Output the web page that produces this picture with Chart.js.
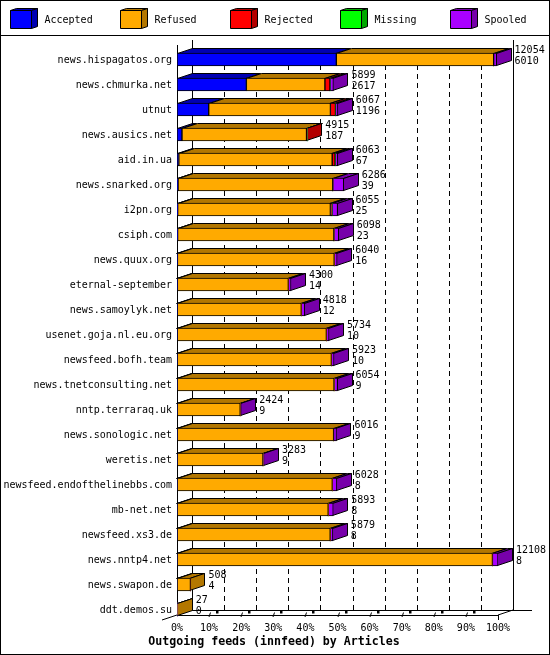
<!DOCTYPE html>
<html>
<head>
<meta charset="utf-8">
<title>Outgoing feeds (innfeed) by Articles</title>
<script src="https://cdn.jsdelivr.net/npm/chart.js@4/dist/chart.umd.min.js"></script>
<style>
  html, body { margin: 0; padding: 0; background: #fff; }
  canvas { display: block; }
</style>
</head>
<body>
<canvas id="feedsChart" width="550" height="655"></canvas>
<script>
// Chart data, in articles
const HOSTS = [
  "news.hispagatos.org", "news.chmurka.net", "utnut", "news.ausics.net", "aid.in.ua",
  "news.snarked.org", "i2pn.org", "csiph.com", "news.quux.org", "eternal-september",
  "news.samoylyk.net", "usenet.goja.nl.eu.org", "newsfeed.bofh.team", "news.tnetconsulting.net",
  "nntp.terraraq.uk", "news.sonologic.net", "weretis.net", "newsfeed.endofthelinebbs.com",
  "mb-net.net", "newsfeed.xs3.de", "news.nntp4.net", "news.swapon.de", "ddt.demos.su",
];
const TOTALS = [12054, 5899, 6067, 4915, 6063, 6286, 6055, 6098, 6040, 4300, 4818, 5734, 5923, 6054, 2424, 6016, 3283, 6028, 5893, 5879, 12108, 508, 27];
const ACCEPTED = [6010, 2617, 1196, 187, 67, 39, 25, 23, 16, 14, 12, 10, 10, 9, 9, 9, 9, 8, 8, 8, 8, 4, 0];
const REFUSED = [5934, 2962, 4591, 4698, 5786, 5837, 5760, 5895, 5914, 4186, 4676, 5624, 5813, 5915, 2375, 5897, 3234, 5850, 5695, 5771, 11890, 504, 27];
const REJECTED = [0, 190, 190, 30, 110, 0, 60, 0, 0, 0, 0, 0, 0, 0, 0, 0, 0, 0, 0, 0, 0, 0, 0];
const MISSING = [0, 0, 0, 0, 0, 0, 0, 0, 0, 0, 0, 0, 0, 0, 0, 0, 0, 0, 0, 0, 0, 0, 0];
const SPOOLED = [110, 130, 90, 0, 100, 410, 210, 180, 110, 100, 130, 100, 100, 130, 40, 110, 40, 170, 190, 100, 210, 0, 0];
const TICK_LABELS = ["0%", "10%", "20%", "30%", "40%", "50%", "60%", "70%", "80%", "90%", "100%"];
const CHART_TITLE = "Outgoing feeds (innfeed) by Articles";
const AXIS_MAX = 12108;

// Drawing constants
const FONT = '"DejaVu Sans Mono", monospace';
const DEPTH_X = 15;
const DEPTH_Y = 5;
const FLOOR_BACK_Y = 610;
const FLOOR_FRONT_Y = 615;
const WALL_TOP_Y = 40;

const SERIES = [
  { label: "Accepted", data: ACCEPTED, color: "#0000ff", dark: "#0000b3" },
  { label: "Refused", data: REFUSED, color: "#ffaa00", dark: "#b37700" },
  { label: "Rejected", data: REJECTED, color: "#ff0000", dark: "#b30000" },
  { label: "Missing", data: MISSING, color: "#00ff00", dark: "#00a800" },
  { label: "Spooled", data: SPOOLED, color: "#aa00ff", dark: "#7700aa" },
];

// Fill and outline a closed shape
const drawFace = (ctx, points, fill) => {
  ctx.beginPath();
  points.forEach(([x, y], i) => (i ? ctx.lineTo(x, y) : ctx.moveTo(x, y)));
  ctx.closePath();
  ctx.fillStyle = fill;
  ctx.fill();
  ctx.strokeStyle = "#000";
  ctx.lineWidth = 1;
  ctx.stroke();
};

const drawLine = (ctx, x0, y0, x1, y1, dash = []) => {
  ctx.beginPath();
  ctx.setLineDash(dash);
  ctx.moveTo(x0, y0);
  ctx.lineTo(x1, y1);
  ctx.strokeStyle = "#000";
  ctx.lineWidth = 1;
  ctx.stroke();
  ctx.setLineDash([]);
};

// Walls, dashed grid and floor behind the bars
const drawBackdrop = (chart) => {
  const { ctx, scales } = chart;
  const left = Math.round(scales.x.getPixelForValue(0));
  const right = Math.round(scales.x.getPixelForValue(AXIS_MAX));

  drawLine(ctx, left + 0.5, WALL_TOP_Y + DEPTH_Y, left + 0.5, FLOOR_FRONT_Y);
  drawLine(ctx, left + DEPTH_X + 0.5, WALL_TOP_Y, left + DEPTH_X + 0.5, FLOOR_BACK_Y);
  drawLine(ctx, right + DEPTH_X + 0.5, WALL_TOP_Y, right + DEPTH_X + 0.5, FLOOR_BACK_Y);

  drawLine(ctx, left + DEPTH_X, FLOOR_BACK_Y + 0.5, 532, FLOOR_BACK_Y + 0.5);
  drawLine(ctx, left, FLOOR_FRONT_Y + 0.5, right, FLOOR_FRONT_Y + 0.5);
  drawLine(ctx, left - DEPTH_X, FLOOR_FRONT_Y + DEPTH_Y, left + DEPTH_X, FLOOR_BACK_Y);
  drawLine(ctx, right, FLOOR_FRONT_Y, right + DEPTH_X, FLOOR_BACK_Y);
  drawLine(ctx, right + 0.5, FLOOR_FRONT_Y, right + 0.5, FLOOR_FRONT_Y + DEPTH_Y);

  scales.x.ticks.forEach((tick, i) => {
    if (i === 0 || i === TICK_LABELS.length - 1) return;
    const x = Math.round(scales.x.getPixelForValue(tick.value));
    // Dashed grid goes upward from the floor
    drawLine(ctx, x + DEPTH_X + 0.5, FLOOR_BACK_Y, x + DEPTH_X + 0.5, 48, [5, 4]);
    // Only stubs of the floor lines are visible
    drawLine(ctx, x, FLOOR_FRONT_Y + 2, x + 1.5, FLOOR_FRONT_Y - 2.5);
    ctx.fillStyle = "#000";
    ctx.fillRect(x + 7, FLOOR_BACK_Y + 1, 2.5, 2.5);
  });
};

// Top and side faces; the front faces are the chart's own bars
const drawBarFaces = (chart) => {
  const { ctx } = chart;
  HOSTS.forEach((host, row) => {
    let last = null;
    SERIES.forEach((series, s) => {
      if (series.data[row] <= 0) return;
      const bar = chart.getDatasetMeta(s).data[row];
      const x0 = Math.round(bar.base) + 0.5;
      const x1 = Math.round(bar.x) - 0.5;
      const top = bar.y - bar.height / 2 + 0.5;
      drawFace(ctx, [[x0, top], [x0 + DEPTH_X, top - DEPTH_Y], [x1 + DEPTH_X, top - DEPTH_Y], [x1, top]], series.dark);
      last = { x1, top, bottom: top + bar.height - 1, dark: series.dark };
    });
    if (last) {
      const { x1, top, bottom, dark } = last;
      drawFace(ctx, [[x1, top], [x1 + DEPTH_X, top - DEPTH_Y], [x1 + DEPTH_X, bottom - DEPTH_Y], [x1, bottom]], dark);
    }
  });
};

// Article counts beside each bar
const drawValueLabels = (chart) => {
  const { ctx, scales } = chart;
  ctx.font = `10px ${FONT}`;
  ctx.fillStyle = "#000";
  ctx.textAlign = "left";
  ctx.textBaseline = "middle";
  HOSTS.forEach((host, row) => {
    const x = scales.x.getPixelForValue(TOTALS[row]) + DEPTH_X + 3;
    const y = scales.y.getPixelForValue(row);
    ctx.fillText(String(TOTALS[row]), x, y - 9.5);
    ctx.fillText(String(ACCEPTED[row]), x, y + 1.5);
  });
};

// Legend strip with one small cube per series
const drawLegendStrip = (chart) => {
  const { ctx } = chart;
  ctx.font = `10px ${FONT}`;
  ctx.textAlign = "left";
  ctx.textBaseline = "middle";
  SERIES.forEach((series, i) => {
    const x = 10.5 + i * 110;
    drawFace(ctx, [[x, 10.5], [x + 6, 8.5], [x + 27, 8.5], [x + 21, 10.5]], series.dark);
    drawFace(ctx, [[x + 21, 10.5], [x + 27, 8.5], [x + 27, 26.5], [x + 21, 28.5]], series.dark);
    drawFace(ctx, [[x, 10.5], [x + 21, 10.5], [x + 21, 28.5], [x, 28.5]], series.color);
    ctx.fillStyle = "#000";
    ctx.fillText(series.label, x + 34, 20);
  });
};

const innfeedPlugin = {
  id: "innfeed",
  beforeDraw(chart) {
    const { ctx, width, height } = chart;
    ctx.save();
    ctx.fillStyle = "#fff";
    ctx.fillRect(0, 0, width, height);
    ctx.restore();
  },
  beforeDatasetsDraw(chart) {
    const { ctx } = chart;
    ctx.save();
    drawBackdrop(chart);
    drawBarFaces(chart);
    ctx.restore();
  },
  afterDraw(chart) {
    const { ctx, width, height } = chart;
    ctx.save();
    drawValueLabels(chart);
    drawLegendStrip(chart);
    // Title is centred on the whole image, not on the plot
    ctx.font = `bold 11.6px ${FONT}`;
    ctx.textAlign = "center";
    ctx.fillText(CHART_TITLE, width / 2 - 1, 642);
    ctx.strokeStyle = "#000";
    ctx.lineWidth = 1;
    ctx.strokeRect(0.5, 0.5, width - 1, height - 1);
    drawLine(ctx, 0, 35.5, width, 35.5);
    ctx.restore();
  },
};

new Chart(document.getElementById("feedsChart"), {
  type: "bar",
  data: {
    labels: HOSTS,
    datasets: SERIES.map(({ label, data, color }) => ({
      label,
      data,
      backgroundColor: color,
      borderColor: "#000",
      borderWidth: (c) => (c.raw > 0 ? 1 : 0),
      borderSkipped: false,
      barThickness: 13,
    })),
  },
  options: {
    indexAxis: "y",
    responsive: false,
    animation: false,
    devicePixelRatio: 1,
    layout: { padding: { top: 47, right: 52, bottom: 0, left: 0 } },
    scales: {
      x: {
        stacked: true,
        min: 0,
        max: AXIS_MAX,
        afterFit: (scale) => { scale.height = 33; },
        grid: { display: false, drawTicks: false },
        border: { display: false },
        ticks: {
          stepSize: AXIS_MAX / 10,
          autoSkip: false,
          maxRotation: 0,
          padding: 0,
          color: "#000",
          font: { family: FONT, size: 10 },
          callback: (value, i) => TICK_LABELS[i],
        },
      },
      y: {
        stacked: true,
        afterFit: (scale) => { scale.width = 177; },
        grid: { display: false, drawTicks: false },
        border: { display: false },
        ticks: {
          autoSkip: false,
          padding: 5,
          labelOffset: 1,
          color: "#000",
          font: { family: FONT, size: 10 },
        },
      },
    },
    plugins: {
      legend: { display: false },
      tooltip: { enabled: false },
      title: { display: false },
    },
  },
  plugins: [innfeedPlugin],
});
</script>
</body>
</html>
